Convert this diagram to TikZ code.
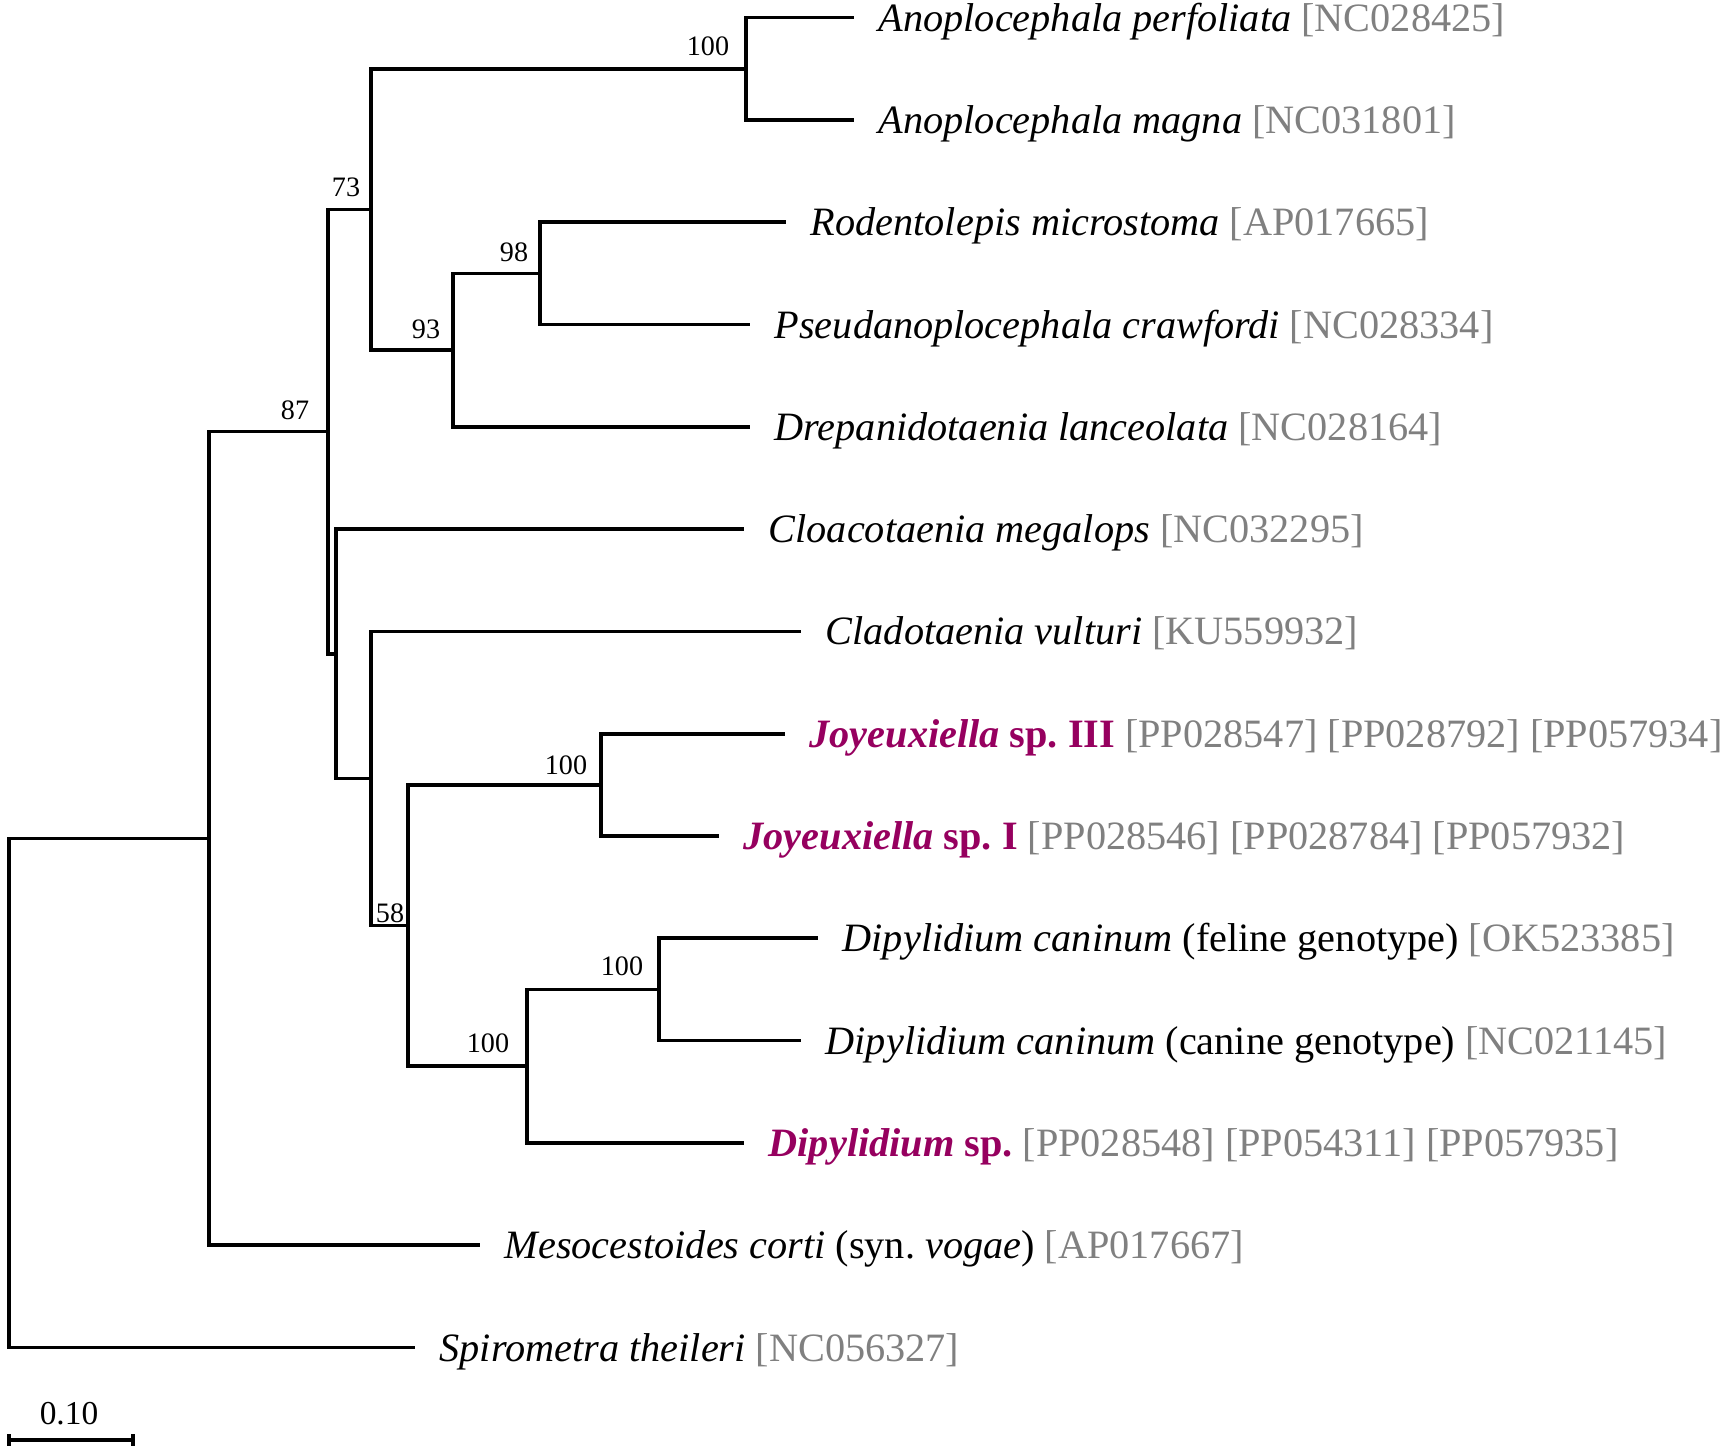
\documentclass[tikz,border=0pt]{standalone}
\usepackage{fontspec}
\setmainfont{Liberation Serif}
\usepackage{xcolor}
\definecolor{accgray}{RGB}{128,128,128}
\definecolor{novelsp}{RGB}{150,0,95}
\usetikzlibrary{positioning,calc}
\newcommand{\acc}[1]{\textcolor{accgray}{[#1]}}
\newcommand{\novel}[1]{\textcolor{novelsp}{\bfseries #1}}
\frenchspacing

\begin{document}
\begin{tikzpicture}[x=0.01cm,y=-0.01cm,
  branch/.style={line width=1.05pt},
  taxon/.style={anchor=base west,inner sep=0pt,xshift=0.24cm,yshift=-0.135cm,font=\fontsize{11.45}{13}\selectfont},
  boot/.style={inner sep=0pt,font=\fontsize{8}{10}\selectfont}]
  \useasboundingbox (0,0) rectangle (1721,1452);
  % internal nodes
  \coordinate (root) at (9,1093);
  \coordinate (nA) at (209,838.4);
  \coordinate (n87) at (328,431.6);
  \coordinate (n73) at (371,209.4);
  \coordinate (nAno) at (746,68.75);
  \coordinate (n93) at (453,350.1);
  \coordinate (n98) at (540,273.35);
  \coordinate (nX) at (336,653.8);
  \coordinate (nY) at (371,778.45);
  \coordinate (n58) at (408,925.5);
  \coordinate (nJoy) at (601,784.85);
  \coordinate (nDip) at (527,1066.2);
  \coordinate (nDc) at (659,989.45);
  % leaf tips
  \coordinate (tAnoP) at (854,17.6);
  \coordinate (tAnoM) at (854,119.9);
  \coordinate (tRod) at (786,222.2);
  \coordinate (tPse) at (750,324.5);
  \coordinate (tDre) at (750,426.8);
  \coordinate (tClo) at (744,529.1);
  \coordinate (tCla) at (801,631.4);
  \coordinate (tJoy3) at (785,733.7);
  \coordinate (tJoy1) at (719,836);
  \coordinate (tDcF) at (818,938.3);
  \coordinate (tDcC) at (801,1040.6);
  \coordinate (tDip) at (744,1142.9);
  \coordinate (tMes) at (480,1245.2);
  \coordinate (tSpi) at (415,1347.5);
  % branches
  \draw[branch] (root) |- (nA) (root) |- (tSpi);
  \draw[branch] (nA) |- (n87) (nA) |- (tMes);
  \draw[branch] (n87) |- (n73) (n87) |- (nX);
  \draw[branch] (n73) |- (nAno) (n73) |- (n93);
  \draw[branch] (nAno) |- (tAnoP) (nAno) |- (tAnoM);
  \draw[branch] (n93) |- (n98) (n93) |- (tDre);
  \draw[branch] (n98) |- (tRod) (n98) |- (tPse);
  \draw[branch] (nX) |- (tClo) (nX) |- (nY);
  \draw[branch] (nY) |- (tCla) (nY) |- (n58);
  \draw[branch] (n58) |- (nJoy) (n58) |- (nDip);
  \draw[branch] (nJoy) |- (tJoy3) (nJoy) |- (tJoy1);
  \draw[branch] (nDip) |- (nDc) (nDip) |- (tDip);
  \draw[branch] (nDc) |- (tDcF) (nDc) |- (tDcC);
  % taxa
  \node[taxon] (lAnoP) at (tAnoP) {\textit{Anoplocephala perfoliata} \acc{NC028425}};
  \node[taxon] (lAnoM) at (tAnoM) {\textit{Anoplocephala magna} \acc{NC031801}};
  \node[taxon] (lRod) at (tRod) {\textit{Rodentolepis microstoma} \acc{AP017665}};
  \node[taxon] (lPse) at (tPse) {\textit{Pseudanoplocephala crawfordi} \acc{NC028334}};
  \node[taxon] (lDre) at (tDre) {\textit{Drepanidotaenia lanceolata} \acc{NC028164}};
  \node[taxon] (lClo) at (tClo) {\textit{Cloacotaenia megalops} \acc{NC032295}};
  \node[taxon] (lCla) at (tCla) {\textit{Cladotaenia vulturi} \acc{KU559932}};
  \node[taxon] (lJoy3) at (tJoy3) {\novel{\textit{Joyeuxiella} sp. III} \acc{PP028547} \acc{PP028792} \acc{PP057934}};
  \node[taxon] (lJoy1) at (tJoy1) {\novel{\textit{Joyeuxiella} sp. I} \acc{PP028546} \acc{PP028784} \acc{PP057932}};
  \node[taxon] (lDcF) at (tDcF) {\textit{Dipylidium caninum} (feline genotype) \acc{OK523385}};
  \node[taxon] (lDcC) at (tDcC) {\textit{Dipylidium caninum} (canine genotype) \acc{NC021145}};
  \node[taxon] (lDip) at (tDip) {\novel{\textit{Dipylidium} sp.} \acc{PP028548} \acc{PP054311} \acc{PP057935}};
  \node[taxon] (lMes) at (tMes) {\textit{Mesocestoides corti} (syn. \textit{vogae}) \acc{AP017667}};
  \node[taxon] (lSpi) at (tSpi) {\textit{Spirometra theileri} \acc{NC056327}};
  % bootstrap values
  \node[boot] (bAno) at (708,46) {100};
  \node[boot] (b73) at (346,187) {73};
  \node[boot] (b98) at (514,252) {98};
  \node[boot] (b93) at (426,329) {93};
  \node[boot] (b87) at (295,410) {87};
  \node[boot] (bJoy) at (566,765) {100};
  \node[boot] (b58) at (390,913) {58};
  \node[boot] (bDc) at (622,966) {100};
  \node[boot] (bDip) at (488,1043) {100};
  % scale bar
  \coordinate (sbL) at (9,1440);
  \coordinate (sbR) at (133,1440);
  \draw[branch] (sbL) -- (sbR);
  \draw[branch] ($(sbL)+(0,-6)$) -- ($(sbL)+(0,6)$);
  \draw[branch] ($(sbR)+(0,-6)$) -- ($(sbR)+(0,6)$);
  \node[boot,font=\fontsize{9.5}{11}\selectfont] (sbT) at (69,1414) {0.10};
\end{tikzpicture}
\end{document}
